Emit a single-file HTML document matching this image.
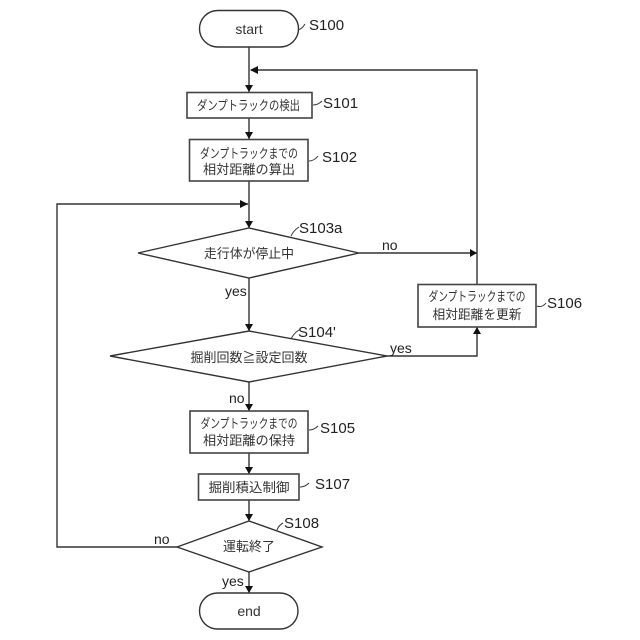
<!DOCTYPE html>
<html>
<head>
<meta charset="utf-8">
<style>
html,body{margin:0;padding:0;background:#fff;width:640px;height:640px;overflow:hidden}
svg{display:block}
text{font-family:"Liberation Sans","Noto Sans CJK JP",sans-serif;fill:#222}
.jp{font-size:13px;text-anchor:middle;fill:#333}
.l{font-size:14px}
.s{font-size:15px}
.sh{fill:#fff;stroke:#333;stroke-width:1.4}
.b{fill:#fff;stroke:#444;stroke-width:1.6}
.c{fill:none;stroke:#333;stroke-width:1.4}
.h{fill:#111}
.q{fill:none;stroke:#333;stroke-width:1}
</style>
</head>
<body>
<svg width="640" height="640" viewBox="0 0 640 640" xmlns="http://www.w3.org/2000/svg">
<!-- connectors -->
<path class="c" d="M249 47V92M249 118V139M249 181V228M249 278V331M249 382V411M249 453V474M249 500V521M249 572V593"/>
<path class="c" d="M359 253H477M477 284V70H251"/>
<path class="c" d="M387 356H477V327"/>
<path class="c" d="M177 547H57V204H248"/>
<!-- arrowheads -->
<path class="h" d="M249 92l-4-7h8zM249 139l-4-7h8zM249 228l-4-7h8zM249 331l-4-7h8zM249 411l-4-7h8zM249 474l-4-7h8zM249 521l-4-7h8zM249 593l-4-7h8z"/>
<path class="h" d="M250 70l8-4v8zM248 204l-8-4v8zM477 253l-7-4v8zM477 327l-4 7h8z"/>
<!-- shapes -->
<rect class="sh" x="199.500" y="10.500" width="99" height="36.500" rx="18.200"/>
<rect class="b" x="187" y="92.500" width="125" height="25.500"/>
<rect class="b" x="189.500" y="139.500" width="118.500" height="41.500"/>
<polygon class="sh" points="138,253 249,228 359,253 249,278"/>
<polygon class="sh" points="110,356 249,331 387,356 249,382"/>
<rect class="b" x="190" y="411" width="118" height="42"/>
<rect class="b" x="198.500" y="474" width="100.500" height="26"/>
<polygon class="sh" points="177,547 249,521 322,547 249,572"/>
<rect class="sh" x="199.500" y="593" width="98.500" height="36" rx="18"/>
<rect class="b" x="418" y="284.500" width="118" height="42.500"/>
<!-- label ticks -->
<path class="q" d="M298 30q4-1 7-6M313 105q5 0 9-4M309 161q5 0 9-5M291 236q3-6 8-9M291 339q3-6 8-9M537 306q5 2 9-3M309 430q5 0 9-4M300 487q5 0 9-4M277 530q2-5 6-7"/>
<!-- node text -->
<text x="249" y="34" class="l" text-anchor="middle" style="fill:#333">start</text>
<text x="248.500" y="110" class="jp" textLength="103" lengthAdjust="spacingAndGlyphs">ダンプトラックの検出</text>
<text x="249" y="158" class="jp" textLength="98" lengthAdjust="spacingAndGlyphs">ダンプトラックまでの</text>
<text x="249" y="174" class="jp" textLength="92" lengthAdjust="spacingAndGlyphs">相対距離の算出</text>
<text x="249" y="258" class="jp" textLength="90" lengthAdjust="spacingAndGlyphs">走行体が停止中</text>
<text x="249" y="362" class="jp" textLength="117" lengthAdjust="spacingAndGlyphs">掘削回数≧設定回数</text>
<text x="249" y="428" class="jp" textLength="97" lengthAdjust="spacingAndGlyphs">ダンプトラックまでの</text>
<text x="249" y="445" class="jp" textLength="92" lengthAdjust="spacingAndGlyphs">相対距離の保持</text>
<text x="249" y="492" class="jp" textLength="81" lengthAdjust="spacingAndGlyphs">掘削積込制御</text>
<text x="249" y="551" class="jp" textLength="52" lengthAdjust="spacingAndGlyphs">運転終了</text>
<text x="249" y="616" class="l" text-anchor="middle" style="fill:#333">end</text>
<text x="477" y="301" class="jp" textLength="97" lengthAdjust="spacingAndGlyphs">ダンプトラックまでの</text>
<text x="477" y="319" class="jp" textLength="89" lengthAdjust="spacingAndGlyphs">相対距離を更新</text>
<!-- step labels -->
<text x="309" y="30" class="s">S100</text>
<text x="323" y="108" class="s">S101</text>
<text x="322" y="162" class="s">S102</text>
<text x="299" y="233" class="s">S103a</text>
<text x="298" y="337" class="s">S104'</text>
<text x="547" y="308" class="s">S106</text>
<text x="320" y="433" class="s">S105</text>
<text x="315" y="489" class="s">S107</text>
<text x="284" y="528" class="s">S108</text>
<!-- connector labels -->
<text x="382" y="250" class="l">no</text>
<text x="225" y="296" class="l">yes</text>
<text x="390" y="353" class="l">yes</text>
<text x="229" y="403" class="l">no</text>
<text x="154" y="544" class="l">no</text>
<text x="222" y="586" class="l">yes</text>
</svg>
</body>
</html>
